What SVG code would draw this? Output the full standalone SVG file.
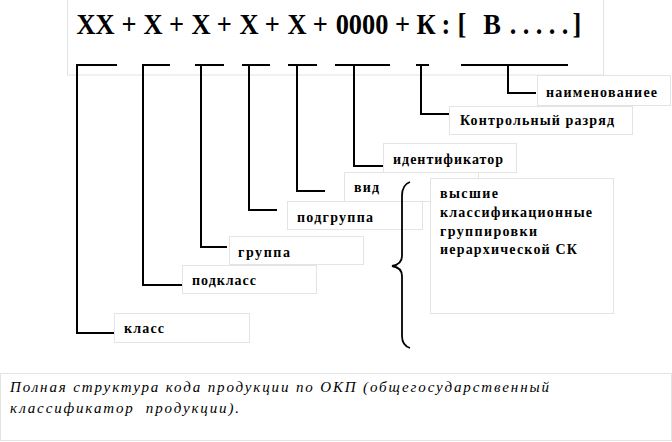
<svg xmlns="http://www.w3.org/2000/svg" width="672" height="442" viewBox="0 0 672 442">
<style>
.box{fill:#fff;stroke:#e4e4e4;stroke-width:1}
.ln{fill:none;stroke:#000;stroke-width:2}
.lbl{font-family:'Liberation Serif','DejaVu Serif',serif;font-weight:bold;font-size:14px;fill:#000}
.frm{font-family:'Liberation Serif','DejaVu Serif',serif;font-weight:bold;font-size:30px;fill:#000;text-anchor:middle}
.cap{font-family:'Liberation Serif','DejaVu Serif',serif;font-style:italic;font-size:15px;fill:#000}
</style>
<rect width="672" height="442" fill="#fff"/>
<g id="formula">
<rect class="box" x="67.5" y="-1" width="536" height="76"/>
<text class="frm" y="34" transform="scale(0.88,1)"><tspan x="108.5">XX</tspan><tspan x="146.6">+</tspan><tspan x="173.9">X</tspan><tspan x="200.5">+</tspan><tspan x="228.4">X</tspan><tspan x="255">+</tspan><tspan x="283">X</tspan><tspan x="309.5">+</tspan><tspan x="337.5">X</tspan><tspan x="364">+</tspan><tspan x="411.4">0000</tspan><tspan x="457.5">+</tspan><tspan x="484.1">К</tspan><tspan x="506.8">:</tspan><tspan x="525">[</tspan><tspan x="559.1">В</tspan><tspan x="583">.</tspan><tspan x="597.7">.</tspan><tspan x="612.5">.</tspan><tspan x="627.3">.</tspan><tspan x="642">.</tspan><tspan x="655.7">]</tspan></text>
</g>
<g id="node-naimenovanie">
<rect class="box" x="537.5" y="75.5" width="133" height="30"/>
<text class="lbl" x="546" y="97" textLength="111" lengthAdjust="spacing">наименованиее</text>
</g>
<g id="node-kontrol">
<rect class="box" x="449.5" y="106.5" width="183" height="28"/>
<text class="lbl" x="460" y="125" textLength="154" lengthAdjust="spacing">Контрольный разряд</text>
</g>
<g id="node-identifikator">
<rect class="box" x="383.5" y="143.5" width="133" height="29"/>
<text class="lbl" x="393" y="164" textLength="110" lengthAdjust="spacing">идентификатор</text>
</g>
<g id="node-vid">
<rect class="box" x="344.5" y="172.5" width="134" height="29"/>
<text class="lbl" x="354" y="192" textLength="25" lengthAdjust="spacing">вид</text>
</g>
<g id="node-vysshie">
<rect class="box" x="430.5" y="178.5" width="183" height="135"/>
<text class="lbl" x="440" y="198" textLength="58" lengthAdjust="spacing">высшие</text>
<text class="lbl" x="440" y="217" textLength="152" lengthAdjust="spacing">классификационные</text>
<text class="lbl" x="440" y="236" textLength="97" lengthAdjust="spacing">группировки</text>
<text class="lbl" x="440" y="254" textLength="137" lengthAdjust="spacing">иерархической СК</text>
</g>
<g id="node-podgruppa">
<rect class="box" x="287.5" y="201.5" width="135" height="28"/>
<text class="lbl" x="297" y="222" textLength="76" lengthAdjust="spacing">подгруппа</text>
</g>
<g id="node-gruppa">
<rect class="box" x="229.5" y="236.5" width="134" height="28"/>
<text class="lbl" x="238" y="257" textLength="52" lengthAdjust="spacing">группа</text>
</g>
<g id="node-podklass">
<rect class="box" x="182.5" y="265.5" width="134" height="28"/>
<text class="lbl" x="192" y="285" textLength="64" lengthAdjust="spacing">подкласс</text>
</g>
<g id="node-klass">
<rect class="box" x="114.5" y="313.5" width="135" height="29"/>
<text class="lbl" x="124" y="333" textLength="40" lengthAdjust="spacing">класс</text>
</g>
<g id="connectors">
<path class="ln" d="M76 65H117M77 65V333H114"/>
<path class="ln" d="M142 65H170M143 65V285H182"/>
<path class="ln" d="M195 65H224M201 65V247H227"/>
<path class="ln" d="M242 65H270M249 65V210H277"/>
<path class="ln" d="M288 65H317M297 65V191H325"/>
<path class="ln" d="M335 65H390M354 65V166H383"/>
<path class="ln" d="M416 65H429M421 65V114H449"/>
<path class="ln" d="M461 65H568M508 65V93H536"/>
<path fill="none" stroke="#000" stroke-width="1.8" d="M410 182C404 184 402 189 402 196L402 256C402 262 398 265 392 266C398 267 402 270 402 276L402 336C402 342 404 346 410 348"/>
</g>
<g id="caption">
<rect class="box" x="0.5" y="373.5" width="671" height="67"/>
<text class="cap" x="10" y="392" textLength="539" lengthAdjust="spacing">Полная структура кода продукции по ОКП (общегосударственный</text>
<text class="cap" x="10" y="413" textLength="229" lengthAdjust="spacing" xml:space="preserve">классификатор  продукции).</text>
</g>
</svg>
